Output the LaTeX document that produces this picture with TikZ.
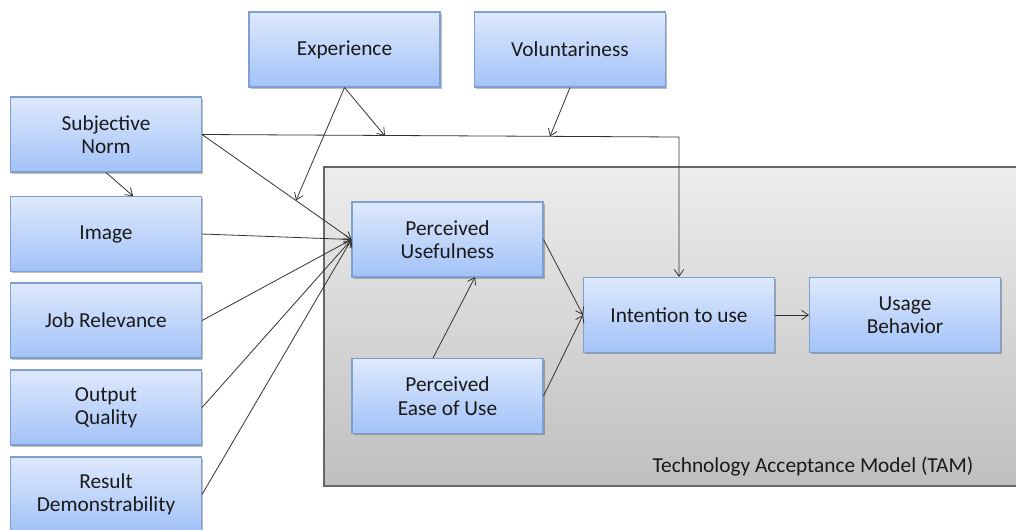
\documentclass[tikz,border=0pt]{standalone}
\usepackage{fontspec}
\setmainfont{Carlito}
\usetikzlibrary{arrows.meta,shadows}
\definecolor{boxtop}{HTML}{DEE9FC}
\definecolor{boxbot}{HTML}{A2C2F8}
\definecolor{boxline}{HTML}{7F9FCF}
\definecolor{tamtop}{HTML}{EDEDED}
\definecolor{tambot}{HTML}{BFBFBF}
\definecolor{tamline}{HTML}{666666}
\definecolor{txt}{HTML}{1A1A1A}
\definecolor{conn}{HTML}{333333}
\tikzset{
  box/.style={draw=boxline, line width=0.8pt, top color=boxtop, bottom color=boxbot,
    minimum width=143.25pt, minimum height=56.25pt, align=center, inner sep=0pt,
    font=\fontsize{16}{17.5}\selectfont, text=txt,
    drop shadow={shadow xshift=1.2pt, shadow yshift=-1.2pt, opacity=0.25, fill=black}},
  arr/.style={draw=conn, line width=0.6pt, -{Straight Barb[length=5pt,width=7pt]}},
  ln/.style={draw=conn, line width=0.6pt}
}
\begin{document}
\begin{tikzpicture}[x=0.75pt,y=-0.75pt]
\useasboundingbox (0,0) rectangle (1016,529);
\clip (0,0) rectangle (1016,529);
% TAM container
\path[draw=tamline, line width=1pt, top color=tamtop, bottom color=tambot] (324,167) rectangle (1030,486);
\node[anchor=east, font=\fontsize{16}{17.5}\selectfont, text=txt] (tamlabel) at (978,467) {Technology Acceptance Model (TAM)};
% boxes
\node[box] (exp) at (344.5,49.5) {Experience};
\node[box] (vol) at (570,49.5) {Voluntariness};
\node[box] (sn) at (106,134.5) {Subjective\\Norm};
\node[box] (img) at (106,234) {Image};
\node[box] (jr) at (106,320.5) {Job Relevance};
\node[box] (oq) at (106,407.5) {Output\\Quality};
\node[box] (rd) at (106,494.5) {Result\\Demonstrability};
\node[box] (pu) at (447.5,239.5) {Perceived\\Usefulness};
\node[box] (peou) at (447.5,396) {Perceived\\Ease of Use};
\node[box] (it) at (679,315) {Intention to use};
\node[box] (ub) at (905,315) {Usage\\Behavior};
% junction coordinates
\coordinate (corner) at (679,137);
\coordinate (jE) at (385,136);
\coordinate (jV) at (550,136.5);
\coordinate (jS) at (296,200.5);
\coordinate (imgtop) at (133,196);
\coordinate (peoutop) at (433,358);
\coordinate (pubot) at (475,277);
% connectors
\draw[arr] (sn.east) -- (corner) -- (it.north);
\draw[arr] (sn.east) -- (pu.west);
\draw[arr] (exp.south) -- (jE);
\draw[arr] (exp.south) -- (jS);
\draw[arr] (vol.south) -- (jV);
\draw[arr] (sn.south) -- (imgtop);
\draw[arr] (img.east) -- (pu.west);
\draw[arr] (jr.east) -- (pu.west);
\draw[arr] (oq.east) -- (pu.west);
\draw[arr] (rd.east) -- (pu.west);
\draw[arr] (pu.east) -- (it.west);
\draw[arr] (peou.east) -- (it.west);
\draw[arr] (peoutop) -- (pubot);
\draw[arr] (it.east) -- (ub.west);
\end{tikzpicture}
\end{document}
